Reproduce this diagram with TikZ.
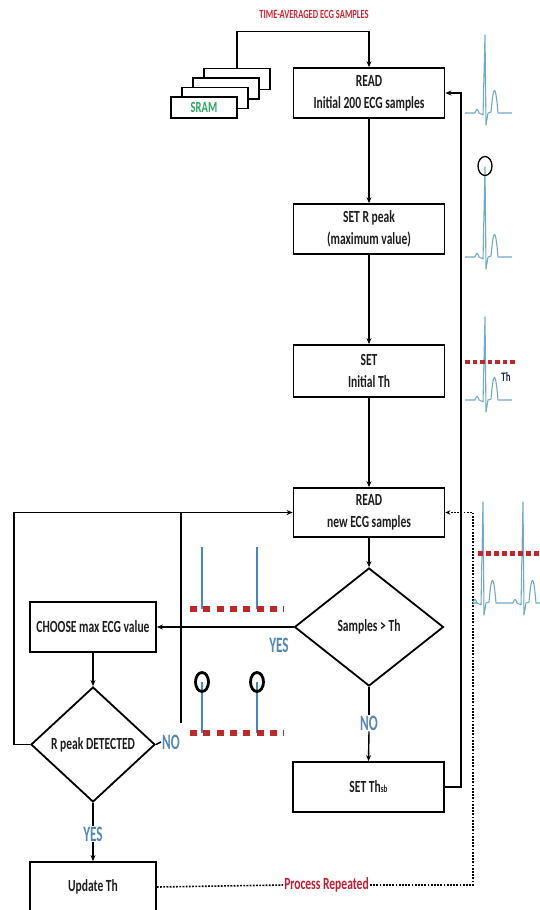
\documentclass[tikz,border=0pt]{standalone}
\usepackage{fontspec}
\setmainfont{Carlito}[FakeStretch=0.68]
\newfontfamily\ynfont{Carlito}[FakeStretch=0.6]
\usetikzlibrary{shapes.geometric,arrows.meta}
\definecolor{titlered}{RGB}{200,40,52}
\definecolor{procred}{RGB}{190,30,50}
\definecolor{ynblue}{RGB}{85,135,180}
\definecolor{sramgreen}{RGB}{45,165,100}
\definecolor{ecgblue}{RGB}{115,170,200}
\definecolor{spikeblue}{RGB}{65,140,190}
\definecolor{dashred}{RGB}{190,40,40}
\definecolor{thnavy}{RGB}{20,40,75}
\definecolor{boxtext}{RGB}{30,30,30}
\tikzset{
  box/.style={draw, line width=1.8pt, fill=white, minimum width=151pt, minimum height=50pt,
    inner sep=0pt, align=center, text=boxtext, font=\fontsize{17}{22}\selectfont\bfseries},
  dia/.style={draw, line width=1.8pt, fill=white, shape=diamond, shape aspect=1, inner sep=0pt,
    text=boxtext, font=\fontsize{17}{22}\selectfont\bfseries},
  sram/.style={draw, line width=1.5pt, fill=white, minimum width=66pt, minimum height=21pt, inner sep=0pt},
  conn/.style={line width=1.4pt, -{Stealth[length=6pt,width=5pt]}},
  plain/.style={line width=1.4pt},
  dotline/.style={line width=1.6pt, dash pattern=on 1.8pt off 1.4pt},
  yn/.style={text=ynblue, inner sep=1pt, fill=white, font=\ynfont\fontsize{22}{22}\selectfont\bfseries},
  ecg/.style={draw=ecgblue, line width=1.1pt, line join=round},
  spike/.style={draw=spikeblue, line width=1.4pt},
  reddash/.style={draw=dashred, line width=6pt, dash pattern=on 7pt off 6.3pt},
  reddashs/.style={draw=dashred, line width=4.5pt, dash pattern=on 4.5pt off 3pt},
}
% #1 x, #2 baseline y, #3 spike top y, #4 left length, #5 right end offset
\newcommand\ecgbeat[5]{%
  \draw[ecg] ({#1-#4},#2) -- ({#1-10},#2) .. controls ({#1-8},{#2-5}) .. ({#1-6},#2)
    -- ({#1-2},{#2+2}) -- (#1,#3) -- ({#1+1},{#2+12}) -- ({#1+3},#2) -- ({#1+6},{#2-1})
    .. controls ({#1+8.5},{#2-30}) and ({#1+10.5},{#2-30}) .. ({#1+13},{#2}) -- ({#1+#5},#2);}
\begin{document}
\begin{tikzpicture}[x=1pt,y=-1pt]
\useasboundingbox (0,0) rectangle (539,910);

% title
\node[text=titlered, font=\fontsize{12.5}{12.5}\selectfont\bfseries] (title) at (314,14) {TIME-AVERAGED ECG SAMPLES};

% SRAM stack
\node[sram] (sram3) at (237,79) {};
\node[sram] (sram2) at (226,88.5) {};
\node[sram] (sram1) at (215,98) {};
\node[sram, text=sramgreen, font=\fontsize{15.5}{15.5}\selectfont\bfseries] (sram0) at (204,107.5) {SRAM};

% main boxes
\node[box] (read1) at (369,93) {READ\\Initial 200 ECG samples};
\node[box] (setr) at (369,229) {SET R peak\\(maximum value)};
\node[box, minimum height=52pt] (setth) at (369,371) {SET\\Initial Th};
\node[box, minimum height=49pt] (read2) at (369,512.5) {READ\\new ECG samples};
\node[dia, minimum width=149pt, minimum height=118pt] (cmp) at (369,627) {\makebox[0pt]{Samples > Th}};
\node[box] (setsb) at (368.5,787) {SET Th{\fontsize{10.5}{10.5}\selectfont sb}};
\node[box, minimum width=126pt] (choose) at (93,627) {CHOOSE max ECG value};
\node[dia, minimum width=124pt, minimum height=115pt] (rpk) at (93,744.5) {\makebox[0pt]{R peak DETECTED}};
\node[box, minimum width=126pt] (upd) at (93,887) {Update Th};

% labels
\node[yn] (no1) at (369,723) {NO};
\node[yn] (yes1) at (279,645) {YES};
\node[yn, fill=none] (no2) at (171,742) {NO};
\node[yn] (yes2) at (93,834) {YES};
\node[text=procred, font=\fontsize{17}{17}\selectfont\bfseries, inner sep=1pt] (proc) at (326.5,885) {Process Repeated};

% connectors
\draw[conn] (sram3.north) -- ++(0,-36.5) -| (read1.north);
\draw[conn] (read1.south) -- (setr.north);
\draw[conn] (setr.south) -- (setth.north);
\draw[conn] (setth.south) -- (read2.north);
\draw[conn] (read2.south) -- (cmp.north);
\draw[plain] (cmp.south) -- (no1.north);
\draw[conn] (no1.south) -- (setsb.north);
\draw[conn] (cmp.west) -- (choose.east);
\draw[conn] (choose.south) -- (rpk.north);
\draw[conn] (rpk.west) -- ++(-16,0) |- (read2.west);
\draw[plain] (rpk.east) -- (no2.west);
\coordinate (j0) at (181,723);
\coordinate (j1) at (181,512.5);
\draw[plain] (j0) -- (j1);
\draw[plain] (rpk.south) -- (yes2.north);
\draw[conn] (yes2.south) -- (upd.north);
\draw[conn] (setsb.east) -- ++(16,0) |- (read1.east);
\draw[dotline] (upd.east) -- (proc.west);
\draw[dotline, -{Stealth[length=5pt,width=4.5pt]}] (proc.east) -- (473,885) |- (read2.east);

% middle illustrations
\draw[spike] (202,547) -- (202,609);
\draw[spike] (257,547) -- (257,609);
\draw[reddash] (190,609) -- (284,609);
\draw[spike] (202,682) -- (202,733);
\draw[spike] (257,682) -- (257,733);
\draw[line width=2.8pt] (202,682) ellipse [x radius=6.5pt, y radius=9.5pt];
\draw[line width=2.8pt] (257,682) ellipse [x radius=6.5pt, y radius=9.5pt];
\draw[reddash] (190,733) -- (284,733);

% right ECG illustrations
\ecgbeat{485}{113}{35}{20}{27}
\ecgbeat{485}{257}{167}{20}{27}
\draw[line width=1.3pt] (485,166) ellipse [x radius=7pt, y radius=9.5pt];
\ecgbeat{485}{400}{317}{20}{27}
\draw[reddashs] (465,362) -- (516,362);
\node[text=thnavy, font=\fontsize{13}{13}\selectfont\bfseries, inner sep=0pt] (thlbl) at (506,377) {Th};
\ecgbeat{483}{603}{502}{5}{14}
\ecgbeat{523}{603}{502}{26}{20}
\draw[reddashs, line width=5pt, dash pattern=on 5pt off 3pt] (478,553) -- (539,553);
\end{tikzpicture}
\end{document}
